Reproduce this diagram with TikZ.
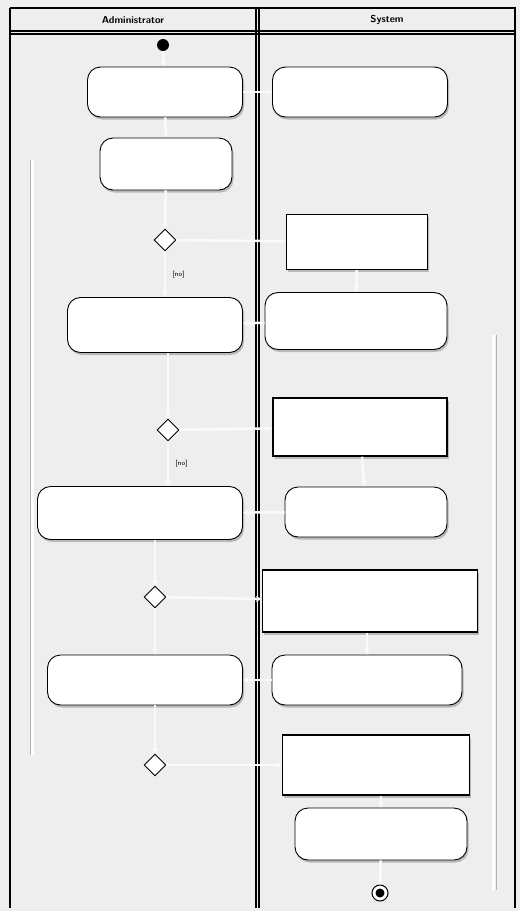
\documentclass[tikz,border=0pt]{standalone}
\usetikzlibrary{shapes.geometric,arrows.meta,shadows}
\definecolor{lanebg}{RGB}{238,238,238}
\definecolor{conn}{RGB}{250,250,250}
\tikzset{
  act/.style={draw=black,line width=0.9pt,fill=white,rounded corners=13pt,minimum height=50pt,inner sep=0pt,drop shadow={shadow xshift=1.5pt,shadow yshift=-2.5pt,fill=gray!55,opacity=1}},
  obj/.style={draw=black,line width=1.4pt,fill=white,rectangle,inner sep=0pt,drop shadow={shadow xshift=1.5pt,shadow yshift=-2.5pt,fill=gray!55,opacity=1}},
  dec/.style={draw=black,line width=0.9pt,fill=white,diamond,minimum width=22pt,minimum height=22pt,inner sep=0pt},
  startnode/.style={circle,fill=black,minimum size=12pt,inner sep=0pt},
  endnode/.style={circle,draw=black,line width=1pt,fill=white,minimum size=16pt,inner sep=0pt,path picture={\fill[black] (path picture bounding box.center) circle (4.5pt);}},
  flow/.style={draw=conn,line width=2.5pt,-{Stealth[length=6pt,width=6pt]}},
  lane/.style={draw=black,line width=1.2pt},
  guard/.style={font=\sffamily\scriptsize,text=black},
  head/.style={font=\sffamily\bfseries}
}
\begin{document}
\begin{tikzpicture}[x=1pt,y=-1pt]
\useasboundingbox (0,0) rectangle (520,911);
\fill[lanebg] (0,0) rectangle (520,911);
% frame and lanes
\fill[lanebg] (10,8) rectangle (516,908);
\draw[lane] (10,8) -- (516,8);
\draw[lane] (10,31) -- (516,31);
\draw[lane] (10,34) -- (516,34);
\draw[lane] (10,8) -- (10,908);
\draw[lane,line width=2.5pt] (515,8) -- (515,908);
\draw[lane] (256,8) -- (256,908);
\draw[lane] (259,8) -- (259,908);
\node[head] (h1) at (133,20) {Administrator};
\node[head] (h2) at (387,20) {System};
% thin partition guides
\draw[white,line width=3pt] (32,160) -- (32,755);
\draw[gray!60,line width=0.5pt] (30,160) -- (30,755);
\draw[white,line width=3pt] (493,335) -- (493,890);
\draw[gray!60,line width=0.5pt] (496,335) -- (496,890);
% nodes left lane
\node[startnode] (init) at (163,45) {};
\node[act,minimum width=155pt] (L1) at (165,92) {};
\node[act,minimum width=132pt,minimum height=52pt] (L2) at (166,164) {};
\node[dec] (D1) at (165,240) {};
\node[act,minimum width=175pt,minimum height=55pt] (L3) at (155,325) {};
\node[dec] (D2) at (168,430) {};
\node[act,minimum width=205pt,minimum height=53pt] (L4) at (140,513) {};
\node[dec] (D3) at (155,597) {};
\node[act,minimum width=195pt] (L5) at (145,680) {};
\node[dec] (D4) at (155,765) {};
% nodes right lane
\node[act,minimum width=175pt] (R1) at (360,92) {};
\node[obj,minimum width=141pt,minimum height=55pt] (R2) at (357,242) {};
\node[act,minimum width=182pt,minimum height=57pt] (R3) at (356,321) {};
\node[obj,minimum width=174pt,minimum height=58pt] (R4) at (360,427) {};
\node[act,minimum width=162pt] (R5) at (366,512) {};
\node[obj,minimum width=215pt,minimum height=62pt] (R6) at (370,601) {};
\node[act,minimum width=190pt] (R7) at (367,680) {};
\node[obj,minimum width=187pt,minimum height=60pt] (R8) at (376,765) {};
\node[act,minimum width=172pt,minimum height=52pt] (R9) at (381,834) {};
\node[endnode] (fin) at (380,893) {};
% connectors
\draw[flow] (init) -- (L1);
\draw[flow] (L1) -- (R1);
\draw[flow] (L1) -- (L2);
\draw[flow] (L2) -- (D1);
\draw[flow] (D1) -- (R2);
\draw[flow] (D1) -- node[guard,right=3pt] {[no]} (D1 |- L3.north);
\draw[flow] (R2) -- (R3);
\draw[flow] (R3) -- (L3);
\draw[flow] (L3.south -| D2) -- (D2);
\draw[flow] (D2) -- (R4);
\draw[flow] (D2) -- node[guard,right=3pt] {[no]} (D2 |- L4.north);
\draw[flow] (R4) -- (R5);
\draw[flow] (R5) -- (L4);
\draw[flow] (L4.south -| D3) -- (D3);
\draw[flow] (D3) -- (R6);
\draw[flow] (D3) -- (D3 |- L5.north);
\draw[flow] (R6.south -| R7) -- (R7);
\draw[flow] (R7) -- (L5);
\draw[flow] (L5.south -| D4) -- (D4);
\draw[flow] (D4) -- (R8);
\draw[flow] (R8.south -| R9) -- (R9);
\draw[flow] (R9) -- (fin);
\end{tikzpicture}
\end{document}
